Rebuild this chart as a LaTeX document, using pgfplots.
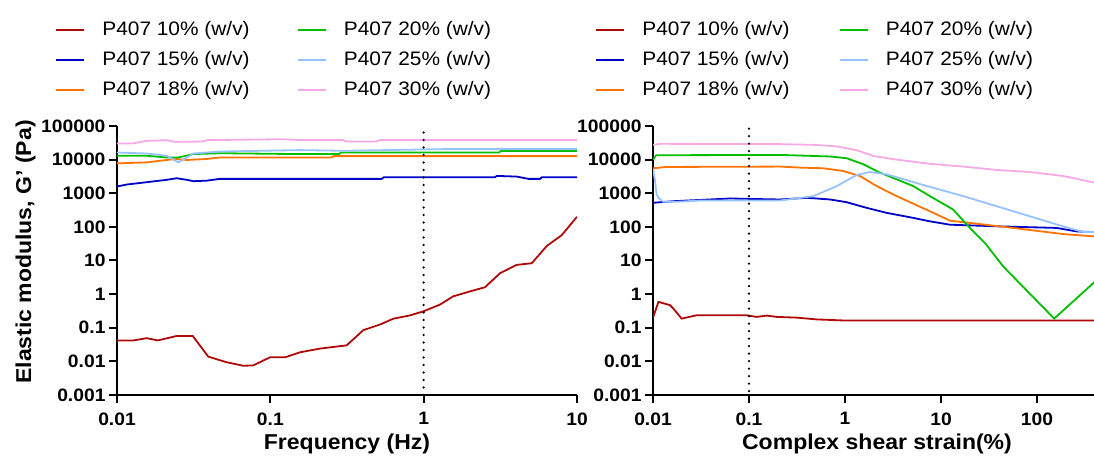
\documentclass[border=0pt]{standalone}
\usepackage{fontspec}
\setmainfont{Liberation Sans}[FakeStretch=1.07]
\usepackage{pgfplots}
\pgfplotsset{compat=1.18}
\definecolor{c10}{RGB}{175,10,10}
\definecolor{c15}{RGB}{0,0,200}
\definecolor{c18}{RGB}{255,115,0}
\definecolor{c20}{RGB}{0,190,0}
\definecolor{c25}{RGB}{150,195,255}
\definecolor{c30}{RGB}{245,170,230}
\begin{document}
\begin{tikzpicture}
\useasboundingbox (0,0) rectangle (1094pt,457pt);
% ---------------- left panel ----------------
\begin{axis}[xmode=log, ymode=log,
  scale only axis, height=269pt, width=460pt,
  at={(117pt,62pt)}, anchor=south west,
  ymin=1e-3, ymax=1e5,
  axis x line*=bottom, axis y line*=left,
  axis line style={line width=2.4pt},
  major tick style={line width=2pt, black},
  major tick length=8pt,
  tick align=outside,
  xminorticks=false, yminorticks=false,
  ytick={1e-3,1e-2,1e-1,1,10,100,1000,10000,100000},
  yticklabels={0.001,0.01,0.1,1,10,100,1000,10000,100000},
  tick label style={font=\bfseries\fontsize{18}{18}\selectfont},
  xticklabel style={yshift=-6pt},
  xmin=0.01, xmax=10, xtick={0.01,0.1,1,10}, xticklabels={0.01,0.1,1,10},
  legend columns=3, transpose legend,
  legend cell align=left,
  legend style={draw=none, fill=none, inner sep=0pt, anchor=north west,
     at={(axis description cs:-0.1348,1.394)},
     font=\fontsize{19.5}{20}\selectfont,
     nodes={inner sep=0pt, text height=15pt, text depth=5pt},
     row sep=10pt, column sep=17pt,
     /tikz/every even column/.append style={column sep=47pt}},
  legend image code/.code={\draw[#1, line width=2.2pt] (0pt,0pt) -- (28pt,0pt);},
  every axis plot/.append style={line width=1.8pt}]
\addplot[c10] coordinates {(0.01,0.042) (0.0128,0.042) (0.0156,0.049) (0.0185,0.042) (0.0245,0.057) (0.0312,0.057) (0.0394,0.0138) (0.052,0.0094) (0.0667,0.0074) (0.0775,0.0076) (0.0995,0.0132) (0.125,0.0132) (0.156,0.0186) (0.211,0.024) (0.315,0.030) (0.404,0.085) (0.52,0.125) (0.634,0.186) (0.815,0.233) (1.0,0.31) (1.28,0.49) (1.56,0.86) (2.01,1.21) (2.51,1.6) (3.15,4.2) (4.04,7.4) (5.07,8.3) (6.35,27) (7.96,57) (10,200)};
\addlegendentry{P407 10\% (w/v)}
\addplot[c15] coordinates {(0.01,1585) (0.0116,1820) (0.0156,2130) (0.0211,2510) (0.0245,2790) (0.0285,2510) (0.0315,2280) (0.0385,2370) (0.047,2680) (0.533,2680) (0.55,2990) (2.92,2990) (3.0,3280) (4.04,3130) (4.82,2680) (5.74,2680) (5.9,2990) (10,2990)};
\addlegendentry{P407 15\% (w/v)}
\addplot[c18] coordinates {(0.01,7730) (0.0156,8280) (0.0211,9770) (0.0245,10400) (0.0285,9770) (0.038,10400) (0.047,11600) (0.25,11600) (0.26,12700) (10,12700)};
\addlegendentry{P407 18\% (w/v)}
\addplot[c20] coordinates {(0.01,13000) (0.0156,13000) (0.0211,11600) (0.0251,11600) (0.0315,14600) (0.047,15500) (0.156,14600) (0.28,14600) (0.29,16300) (3.1,16300) (3.2,18200) (10,18200)};
\addlegendentry{P407 20\% (w/v)}
\addplot[c25] coordinates {(0.01,16300) (0.0156,15200) (0.0211,13000) (0.0251,8270) (0.0285,11600) (0.0315,15200) (0.047,17400) (0.156,19200) (0.30,18300) (1.34,20500) (10,20500)};
\addlegendentry{P407 25\% (w/v)}
\addplot[c30] coordinates {(0.01,30000) (0.0125,30000) (0.0156,36000) (0.021,38000) (0.024,33700) (0.036,34500) (0.039,38000) (0.12,40500) (0.16,38000) (0.30,38000) (0.315,34500) (0.49,34500) (0.52,38000) (10,38000)};
\addlegendentry{P407 30\% (w/v)}
\addplot[black, line width=2.6pt, dash pattern=on 0pt off 7.5pt, line cap=round, forget plot] coordinates {(1,0.001) (1,100000)};
\end{axis}
% ---------------- right panel ----------------
\begin{axis}[xmode=log, ymode=log,
  scale only axis, height=269pt, width=441.8pt,
  at={(653pt,62pt)}, anchor=south west,
  ymin=1e-3, ymax=1e5,
  axis x line*=bottom, axis y line*=left,
  axis line style={line width=2.4pt},
  major tick style={line width=2pt, black},
  major tick length=8pt,
  tick align=outside,
  xminorticks=false, yminorticks=false,
  ytick={1e-3,1e-2,1e-1,1,10,100,1000,10000,100000},
  yticklabels={0.001,0.01,0.1,1,10,100,1000,10000,100000},
  tick label style={font=\bfseries\fontsize{18}{18}\selectfont},
  xticklabel style={yshift=-6pt},
  xmin=0.01, xmax=400, xtick={0.01,0.1,1,10,100}, xticklabels={0.01,0.1,1,10,100},
  legend columns=3, transpose legend,
  legend cell align=left,
  legend style={draw=none, fill=none, inner sep=0pt, anchor=north west,
     at={(axis description cs:-0.1313,1.394)},
     font=\fontsize{19.5}{20}\selectfont,
     nodes={inner sep=0pt, text height=15pt, text depth=5pt},
     row sep=10pt, column sep=17pt,
     /tikz/every even column/.append style={column sep=49pt}},
  legend image code/.code={\draw[#1, line width=2.2pt] (0pt,0pt) -- (28pt,0pt);},
  every axis plot/.append style={line width=1.8pt}]
\addplot[c10] coordinates {(0.01,0.2) (0.0114,0.59) (0.015,0.47) (0.0163,0.37) (0.0199,0.187) (0.0285,0.235) (0.095,0.235) (0.12,0.21) (0.153,0.23) (0.195,0.21) (0.314,0.2) (0.507,0.177) (1.0,0.164) (400,0.164)};
\addlegendentry{P407 10\% (w/v)}
\addplot[c15] coordinates {(0.01,520) (0.0163,580) (0.0634,698) (0.21,652) (0.4,732) (0.70,652) (1.04,542) (1.68,368) (2.72,261) (5.14,185) (7.67,146) (12.4,116) (38,104) (160,93) (260,73) (400,70)};
\addlegendentry{P407 15\% (w/v)}
\addplot[c18] coordinates {(0.01,5530) (0.0139,6050) (0.21,6210) (0.34,5790) (0.594,5530) (0.96,4590) (1.43,3250) (2.14,1630) (3.46,819) (7.67,291) (12.4,153) (20,131) (56.6,92.7) (188,61) (400,52)};
\addlegendentry{P407 18\% (w/v)}
\addplot[c20] coordinates {(0.01,10000) (0.0108,13500) (0.21,13800) (0.70,12400) (1.04,11000) (1.55,7280) (2.31,4110) (3.46,2590) (5.14,1630) (7.67,819) (13.4,327) (20,92.7) (28.7,33) (44.6,6.6) (151,0.187) (400,2.33)};
\addlegendentry{P407 20\% (w/v)}
\addplot[c25] coordinates {(0.01,5170) (0.0105,2300) (0.0109,920) (0.0114,733) (0.0128,557) (0.0177,557) (0.031,608) (0.21,608) (0.468,819) (0.82,1630) (1.32,3480) (1.82,4280) (2.72,3650) (5.14,2150) (7.67,1545) (17.1,819) (38,411) (84.5,206) (188,103) (303,70) (400,70)};
\addlegendentry{P407 25\% (w/v)}
\addplot[c30] coordinates {(0.01,27500) (0.012,29500) (0.21,28900) (0.47,27500) (0.82,24700) (1.32,19100) (1.97,12900) (3.19,10300) (7.67,7500) (17.1,6210) (38,4920) (84.5,4280) (188,3250) (400,2060)};
\addlegendentry{P407 30\% (w/v)}
\addplot[black, line width=2.6pt, dash pattern=on 0pt off 7.5pt, line cap=round, forget plot] coordinates {(0.1,0.0013) (0.1,100000)};
\end{axis}
\node[anchor=base, font=\bfseries\fontsize{21.5}{22}\selectfont] at (347pt,7pt) {Frequency (Hz)};
\node[anchor=base, font=\bfseries\fontsize{21.5}{22}\selectfont] at (877pt,7pt) {Complex shear strain(\%)};
\node[anchor=base, rotate=90, font=\bfseries\fontsize{21.5}{22}\selectfont] at (31pt,205pt) {Elastic modulus, G' (Pa)};
\end{tikzpicture}
\end{document}
